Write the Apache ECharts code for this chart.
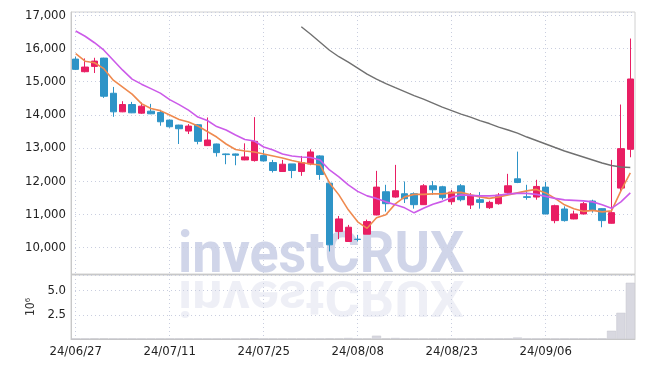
<!DOCTYPE html>
<html><head><meta charset="utf-8">
<script src="https://cdn.jsdelivr.net/npm/echarts@6/dist/echarts.min.js"></script>
<style>html,body{margin:0;padding:0;background:#fff}#c{width:645px;height:368px}</style>
</head><body><div id="c"></div>
<script>
const dates = ['24/06/27','24/06/28','24/07/01','24/07/02','24/07/03','24/07/04','24/07/05','24/07/08','24/07/09','24/07/10',
'24/07/11','24/07/12','24/07/15','24/07/16','24/07/17','24/07/18','24/07/19','24/07/22','24/07/23','24/07/24',
'24/07/25','24/07/26','24/07/29','24/07/30','24/07/31','24/08/01','24/08/02','24/08/05','24/08/06','24/08/07',
'24/08/08','24/08/09','24/08/12','24/08/13','24/08/14','24/08/16','24/08/19','24/08/20','24/08/21','24/08/22',
'24/08/23','24/08/26','24/08/27','24/08/28','24/08/29','24/08/30','24/09/02','24/09/03','24/09/04','24/09/05',
'24/09/06','24/09/09','24/09/10','24/09/11','24/09/12','24/09/13','24/09/19','24/09/20','24/09/23','24/09/24'];
const opens  = [15680,15300,15460,15710,14650,14090,14310,14050,14110,14070,13840,13690,13510,13700,13070,13120,12820,12820,12640,12620,
12770,12560,12290,12520,12290,12520,12760,11940,10480,10180,10250,10400,10980,11680,11520,11620,11620,11290,11860,11830,
11380,11860,11280,11440,11200,11320,11660,12070,11530,11520,11820,10810,11160,10860,11010,11400,11170,10730,11790,12960];
const closes = [15370,15440,15620,14560,14090,14310,14060,14260,14030,13790,13640,13580,13660,13200,13240,12860,12800,12780,12730,13200,
12610,12320,12510,12320,12560,12880,12200,10080,10860,10610,10240,10780,11820,11320,11710,11470,11290,11860,11740,11500,
11670,11440,11560,11360,11360,11580,11860,11960,11510,11840,11010,11260,10810,11010,11320,11130,10810,11050,12980,15080];
const lows   = [15350,15280,15260,14510,13940,14080,14050,14030,14020,13670,13610,13120,13420,13110,13060,12740,12510,12480,12630,12590,
12590,12260,12280,12090,12160,12480,12040,9880,10250,10170,10180,10400,10970,11080,11500,11340,11170,11280,11590,11440,
11290,11390,11160,11170,11160,11290,11590,11940,11440,11440,11000,10730,10780,10850,11000,11050,10610,10720,11690,12720];
const highs  = [15750,15700,15720,15720,14840,14410,14390,14370,14330,14150,13860,13700,13720,13720,13920,13130,12830,12830,13140,13930,
12940,12640,12640,12520,12760,12960,12780,11980,10950,10680,10380,10840,12310,11890,12490,11990,11660,11910,12000,11860,
11740,11910,11640,11670,11410,11640,12220,12890,11890,12040,11980,11290,11240,11110,11370,11440,11180,12640,14310,16300];
const maShort = [15842,15616,15571,15391,15045,14834,14624,14338,14188,14127,13992,13857,13782,13661,13496,13330,13120,12955,12909,12879,
12819,12759,12699,12623,12563,12518,12488,11947,11586,11134,10773,10578,10894,10984,11315,11525,11601,11601,11616,11616,
11646,11661,11586,11525,11480,11525,11586,11646,11706,11751,11646,11480,11285,11165,11089,11119,11074,11104,11706,12248];
const maMid = [16528,16368,16173,15947,15646,15345,15075,14924,14789,14654,14458,14308,14143,13932,13827,13646,13541,13390,13255,13210,
13030,12939,12819,12759,12729,12714,12638,12337,12127,11886,11691,11555,11480,11375,11285,11195,11044,11180,11300,11390,
11510,11586,11570,11555,11555,11570,11616,11631,11631,11601,11540,11480,11435,11420,11405,11375,11285,11180,11375,11646];
const maLong = [null,null,null,null,null,null,null,null,null,null,null,null,null,null,null,null,null,null,null,null,
null,null,null,null,16654,16429,16188,15947,15752,15586,15406,15225,15075,14940,14819,14699,14579,14473,14353,14233,
14127,14022,13932,13827,13737,13631,13541,13450,13330,13225,13120,13014,12909,12819,12729,12638,12548,12473,12428,12413];
const volumes = [20000,20000,50000,50000,20000,20000,20000,20000,20000,20000,20000,20000,20000,20000,20000,20000,20000,20000,20000,80000,
20000,20000,20000,20000,20000,20000,20000,40000,30000,100000,20000,30000,340000,30000,100000,20000,20000,20000,20000,20000,
20000,20000,20000,20000,20000,20000,20000,150000,20000,20000,30000,20000,20000,20000,20000,20000,20000,850000,2700000,5800000];

const FONT = "'Liberation Sans Narrow','DejaVu Sans Condensed','Roboto Condensed','Noto Sans',sans-serif";
const WFONT = "Roboto, 'Liberation Sans', sans-serif";
const ohlc = dates.map((d, i) => [opens[i], closes[i], lows[i], highs[i]]);
const gridLine = {show: true, lineStyle: {color: '#c9cedf', type: [1, 3], width: 1}};

const chart = echarts.init(document.getElementById('c'), null, {renderer: 'canvas'});
chart.setOption({
  animation: false,
  backgroundColor: '#fff',
  graphic: [
    {type: 'text', left: 178, top: 228, z: 0, silent: true, scaleX: 0.93, originX: 0,
     style: {text: 'investCRUX', font: 'bold 58px ' + WFONT, fill: 'rgba(196,203,228,0.8)'}},
    {type: 'text', left: 178, top: 269, z: 0, silent: true, scaleX: 0.93, scaleY: -0.85, originY: 0, originX: 0,
     style: {text: 'investCRUX', font: 'bold 58px ' + WFONT, fill: 'rgba(205,210,230,0.35)'}}
  ],
  grid: [
    {left: 71, right: 10, top: 12, height: 262, show: true, borderColor: '#d0d0d0', borderWidth: 1, backgroundColor: 'transparent'},
    {left: 71, right: 10, top: 275, height: 64, show: true, borderColor: '#d0d0d0', borderWidth: 1, backgroundColor: 'transparent'}
  ],
  xAxis: [
    {type: 'category', gridIndex: 0, data: dates, boundaryGap: true,
     axisLabel: {show: false}, axisTick: {show: false},
     axisLine: {show: true, lineStyle: {color: '#c8c8c8'}},
     splitLine: Object.assign({interval: 9, alignWithLabel: true}, gridLine)},
    {type: 'category', gridIndex: 1, data: dates, boundaryGap: true,
     axisLabel: {show: true, interval: 9, color: '#222', fontFamily: FONT, fontSize: 13, fontWeight: 500, margin: 6},
     axisTick: {show: false},
     axisLine: {show: true, lineStyle: {color: '#c8c8c8'}},
     splitLine: Object.assign({interval: 9, alignWithLabel: true}, gridLine)}
  ],
  yAxis: [
    {type: 'value', gridIndex: 0, min: 9200, max: 17100, splitNumber: 8, scale: true,
     axisLine: {show: true, lineStyle: {color: '#c8c8c8'}}, axisTick: {show: false},
     axisLabel: {color: '#222', fontFamily: FONT, fontSize: 13, fontWeight: 500, margin: 5,
       formatter: v => (v % 1000 === 0) ? v.toLocaleString('en-US') : ''},
     splitLine: gridLine},
    {type: 'value', gridIndex: 1, min: 0, max: 6600000, interval: 2500000,
     name: '10\u2076', nameLocation: 'middle', nameRotate: 90, nameGap: 32,
     nameTextStyle: {color: '#333', fontFamily: FONT, fontSize: 12},
     axisLine: {show: true, lineStyle: {color: '#c8c8c8'}}, axisTick: {show: false},
     axisLabel: {color: '#222', fontFamily: FONT, fontSize: 13, fontWeight: 500, margin: 5,
       formatter: v => (v > 0 && v % 2500000 === 0) ? (v / 1e6).toFixed(1) : ''},
     splitLine: gridLine}
  ],
  series: [
    {type: 'candlestick', xAxisIndex: 0, yAxisIndex: 0, data: ohlc, barWidth: 7, z: 3,
     itemStyle: {color: '#e91e63', color0: '#2e94c7', borderColor: '#e91e63', borderColor0: '#2e94c7', borderWidth: 1}},
    {type: 'line', xAxisIndex: 0, yAxisIndex: 0, data: maShort, symbol: 'none', z: 4,
     lineStyle: {color: '#ef8a4f', width: 1.6}},
    {type: 'line', xAxisIndex: 0, yAxisIndex: 0, data: maMid, symbol: 'none', z: 4,
     lineStyle: {color: '#cc5be9', width: 1.6}},
    {type: 'line', xAxisIndex: 0, yAxisIndex: 0, data: maLong, symbol: 'none', z: 4, connectNulls: false,
     lineStyle: {color: '#707070', width: 1.4}},
    {type: 'bar', xAxisIndex: 1, yAxisIndex: 1, data: volumes, barWidth: '96%', z: 3,
     itemStyle: {color: '#d8d8e0', borderColor: '#c4c4cc', borderWidth: 0.5}}
  ]
});
</script></body></html>
